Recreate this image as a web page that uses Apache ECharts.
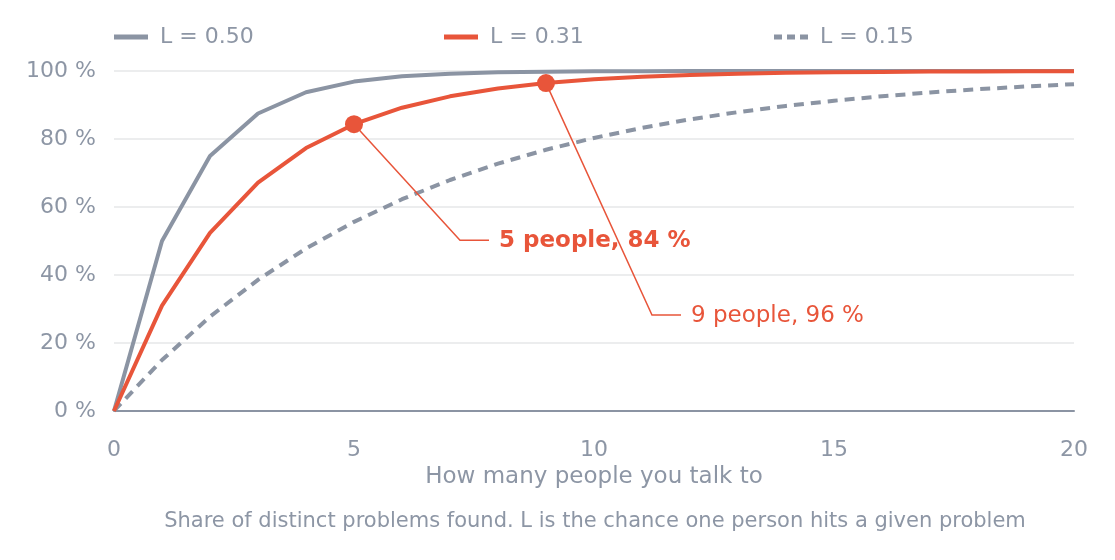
<!DOCTYPE html>
<html>
<head>
<meta charset="utf-8">
<script src="https://cdn.jsdelivr.net/npm/echarts@6/dist/echarts.min.js"></script>
<style>
html,body{margin:0;padding:0;background:#fff;}
#chart{width:1115px;height:560px;}
</style>
</head>
<body>
<div id="chart"></div>
<script>
const people = [0,1,2,3,4,5,6,7,8,9,10,11,12,13,14,15,16,17,18,19,20];
const seriesNames = ['L = 0.50', 'L = 0.31', 'L = 0.15'];
const valsL50 = [0,50,75,87.5,93.75,96.88,98.44,99.22,99.61,99.8,99.9,99.95,99.98,99.99,99.99,100,100,100,100,100,100];
const valsL31 = [0,31,52.39,67.15,77.33,84.36,89.21,92.55,94.86,96.45,97.55,98.31,98.84,99.2,99.45,99.62,99.74,99.82,99.87,99.91,99.94];
const valsL15 = [0,15,27.75,38.59,47.8,55.63,62.29,67.94,72.75,76.84,80.31,83.27,85.78,87.91,89.72,91.26,92.57,93.69,94.64,95.44,96.12];
const yTicks = [0,20,40,60,80,100];
const annPeople = [5, 9];
const annShare = [84.36, 96.45];
const annLabels = ['5 people, 84 %', '9 people, 96 %'];
const xTitle = 'How many people you talk to';
const caption = 'Share of distinct problems found. L is the chance one person hits a given problem';

const GRAY = '#8b94a3';
const ORANGE = '#e8553a';
const TEXT = '#8d96a5';
const FONT = '"DejaVu Sans", sans-serif';

function pairs(vals){ return people.map((p,i)=>[p, vals[i]]); }

const annOffsets = [{dx:106, dy:116, bold:true}, {dx:106, dy:232, bold:false}];

const SOLID_ICON = 'path://M0,0H34V5H0Z';
const DASH_ICON = 'path://M0,0H8V5H0Z M13,0H21V5H13Z M26,0H34V5H26Z';

const chart = echarts.init(document.getElementById('chart'), null, {renderer:'canvas'});
const legendCommon = {
  top: 26, padding: 0, itemWidth: 34, itemHeight: 5, itemGap: 12,
  textStyle: {color: TEXT, fontSize: 22, fontFamily: FONT, padding: [0,0,0,7]}
};
chart.setOption({
  animation: false,
  backgroundColor: '#fff',
  textStyle: {fontFamily: FONT},
  title: {
    text: caption, left: 590, bottom: 23, textAlign: 'center',
    textStyle: {color: TEXT, fontSize: 21, fontWeight: 'normal', fontFamily: FONT}
  },
  legend: [
    Object.assign({}, legendCommon, {left: 114, icon: SOLID_ICON, data: [seriesNames[0]]}),
    Object.assign({}, legendCommon, {left: 444, icon: SOLID_ICON, data: [seriesNames[1]]}),
    Object.assign({}, legendCommon, {left: 774, icon: DASH_ICON, data: [seriesNames[2]]})
  ],
  grid: {left: 114, right: 41, top: 71, bottom: 149},
  xAxis: {
    type: 'value', min: 0, max: 20, interval: 5,
    name: xTitle, nameLocation: 'middle', nameGap: 47,
    nameTextStyle: {color: TEXT, fontSize: 23, fontFamily: FONT},
    axisLine: {show: true, lineStyle: {color: GRAY, width: 2}},
    axisTick: {show: false},
    splitLine: {show: false},
    axisLabel: {color: TEXT, fontSize: 22, margin: 28, fontFamily: FONT}
  },
  yAxis: {
    type: 'value', min: 0, max: 100, interval: 20,
    axisLine: {show: false}, axisTick: {show: false},
    splitLine: {show: true, lineStyle: {color: '#e6e7e9', width: 1.5}},
    axisLabel: {color: TEXT, fontSize: 22, margin: 18, fontFamily: FONT,
      formatter: v => yTicks.includes(v) ? v + ' %' : ''}
  },
  series: [
    {name: seriesNames[0], type: 'line', data: pairs(valsL50), showSymbol: false, symbol: 'none',
     lineStyle: {color: GRAY, width: 4}, itemStyle: {color: GRAY}, z: 2},
    {name: seriesNames[2], type: 'line', data: pairs(valsL15), showSymbol: false, symbol: 'none',
     lineStyle: {color: GRAY, width: 4, type: [10, 7]}, itemStyle: {color: GRAY}, z: 2},
    {name: seriesNames[1], type: 'line', data: pairs(valsL31), showSymbol: false, symbol: 'none',
     lineStyle: {color: ORANGE, width: 4}, itemStyle: {color: ORANGE}, z: 3},
    {type: 'custom', z: 4, silent: true,
     data: annPeople.map((p,i)=>[p, annShare[i]]),
     renderItem: function(params, api){
       const i = params.dataIndex;
       const p = api.coord([api.value(0), api.value(1)]);
       const o = annOffsets[i];
       const ex = p[0] + o.dx, ey = p[1] + o.dy;
       return {type: 'group', children: [
         {type: 'polyline', shape: {points: [[p[0], p[1]], [ex, ey], [ex + 29, ey]]},
          style: {stroke: ORANGE, lineWidth: 1.5, fill: null}},
         {type: 'text', style: {x: ex + 39, y: ey + 1, text: annLabels[i], fill: ORANGE,
           font: (o.bold ? 'bold ' : '') + '23px "DejaVu Sans", sans-serif',
           textVerticalAlign: 'middle', verticalAlign: 'middle', textAlign: 'left'}}
       ]};
     }},
    {type: 'scatter', z: 5, silent: true, symbolSize: 18,
     data: annPeople.map((p,i)=>[p, annShare[i]]),
     itemStyle: {color: ORANGE, opacity: 1}}
  ]
});
</script>
</body>
</html>
